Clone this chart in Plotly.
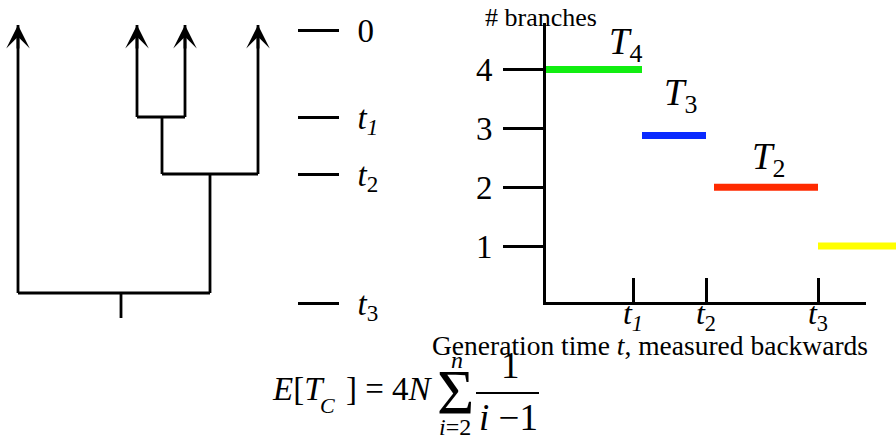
import plotly.graph_objects as go

W, H = 896, 438
SERIF = "Liberation Serif"

# ---------------- data ----------------
# coalescent tree (left panel); x in layout units, t = generations back
tree_leaf_x = [18, 137, 185, 258]
tree_merge_pairs = [(1, 2), (4, 3), (0, 5)]   # node ids: leaves 0-3, merges 4,5,6
tree_merge_t = [87, 144, 263]
tree_node_x = [162, 210, 121]
tree_tip_t = -5
tree_root_end_t = 288
tree_mark_t = [0, 87, 144, 273]
tree_mark_labels = ["0", "<i>t<sub>1</sub></i>", "<i>t</i><sub>2</sub>", "<i>t</i><sub>3</sub>"]

# number of branches through time (right panel)
branch_levels = [4, 2.88, 2, 1]
branch_start_t = [0, 96, 168, 272]
branch_end_t = [96, 160, 272, 350]
branch_colors = ["#11ee11", "#0a2aff", "#ff2a00", "#ffff00"]
branch_labels = ["<i>T</i><sub>4</sub>", "<i>T</i><sub>3</sub>", "<i>T</i><sub>2</sub>"]
chart_tick_t = [87, 160, 272]
chart_tick_labels = ["<i>t<sub>1</sub></i>", "<i>t</i><sub>2</sub>", "<i>t</i><sub>3</sub>"]
branch_ticks = [1, 2, 3, 4]
axis_end_t = 320


def px(x):
    return x / W


def py(y):
    return 1 - y / H


fig = go.Figure()

# ---- tree lines ----
node_x = list(tree_leaf_x) + list(tree_node_x)
node_t = [tree_tip_t] * len(tree_leaf_x) + list(tree_merge_t)
lx, ly = [], []
for (a, b), t in zip(tree_merge_pairs, tree_merge_t):
    for c in (a, b):
        lx += [node_x[c], node_x[c], None]
        ly += [node_t[c], t, None]
    lx += [node_x[a], node_x[b], None]
    ly += [t, t, None]
root = len(node_x) - 1
lx += [node_x[root], node_x[root]]
ly += [node_t[root], tree_root_end_t]
fig.add_trace(go.Scatter(x=lx, y=ly, mode="lines", xaxis="x", yaxis="y",
                         line=dict(color="black", width=2.8),
                         hoverinfo="skip", showlegend=False))

# ---- branch count bars ----
for lvl, s, e, c in zip(branch_levels, branch_start_t, branch_end_t, branch_colors):
    xa = "x2" if e <= axis_end_t else "x3"
    fig.add_trace(go.Scatter(x=[s, e], y=[lvl, lvl], mode="lines",
                             xaxis=xa, yaxis="y2",
                             line=dict(color=c, width=7),
                             hoverinfo="skip", showlegend=False))

annotations = []
# arrowheads on the leaves
for x in tree_leaf_x:
    annotations.append(dict(x=x, y=tree_tip_t, ax=x, ay=tree_tip_t + 25,
                            xref="x", yref="y", axref="x", ayref="y",
                            text="", showarrow=True, arrowhead=3,
                            arrowsize=1.4, arrowwidth=2.8, arrowcolor="black",
                            standoff=0, startstandoff=0))

txt = dict(showarrow=False, xref="paper", yref="paper",
           xanchor="center", yanchor="middle")

# T labels
for lab, (cx, cy) in zip(branch_labels, [(626, 45), (681, 95), (769, 159)]):
    annotations.append(dict(text=lab, x=px(cx), y=py(cy),
                            font=dict(family=SERIF, size=37, color="black"), **txt))

annotations.append(dict(text="# branches", x=px(541), y=py(18),
                        font=dict(family=SERIF, size=26, color="black"), **txt))
annotations.append(dict(text="Generation time <i>t</i>, measured backwards",
                        x=px(650), y=py(345),
                        font=dict(family=SERIF, size=27.5, color="black"), **txt))

# formula  E[T_C] = 4N  sum_{i=2}^{n} 1/(i-1)
ff = dict(family=SERIF, color="black")
left = dict(showarrow=False, xref="paper", yref="paper", xanchor="left", yanchor="middle")
annotations.append(dict(text="<i>E</i>[<i>T</i>", x=px(270), y=py(389),
                        font=dict(size=33, **ff), **left))
annotations.append(dict(text="<i>C</i>", x=px(318), y=py(405),
                        font=dict(size=22, **ff), **left))
annotations.append(dict(text="] = 4<i>N</i>", x=px(344), y=py(389),
                        font=dict(size=33, **ff), **left))
annotations.append(dict(text="Σ", x=px(455), y=py(392), font=dict(size=64, **ff), **txt))
annotations.append(dict(text="<i>n</i>", x=px(457), y=py(360), font=dict(size=24, **ff), **txt))
annotations.append(dict(text="<i>i</i>=2", x=px(455), y=py(427), font=dict(size=24, **ff), **txt))
annotations.append(dict(text="1", x=px(510), y=py(365), font=dict(size=37, **ff), **txt))
annotations.append(dict(text="<i>i</i> −1", x=px(508), y=py(417), font=dict(size=37, **ff), **txt))

shapes = [dict(type="line", xref="paper", yref="paper",
               x0=px(476), x1=px(539), y0=py(393), y1=py(393),
               line=dict(color="black", width=2))]

fig.update_layout(
    width=W, height=H, autosize=False,
    margin=dict(l=0, r=0, t=0, b=0, pad=0, autoexpand=False),
    paper_bgcolor="white", plot_bgcolor="rgba(0,0,0,0)",
    showlegend=False,
    annotations=annotations, shapes=shapes,
    xaxis=dict(domain=[0, px(297)], range=[0, 297], anchor="y",
               showticklabels=False, ticks="", showline=False,
               showgrid=False, zeroline=False, automargin=False),
    yaxis=dict(domain=[py(330), 1], range=[300, -30], anchor="x", side="right",
               ticks="outside", ticklen=41, tickwidth=3, tickcolor="black",
               tickvals=tree_mark_t, ticktext=tree_mark_labels,
               tickfont=dict(family=SERIF, size=33, color="black"),
               ticklabelstandoff=12, automargin=False,
               showgrid=False, zeroline=False, showline=False),
    xaxis2=dict(domain=[px(546), px(546 + axis_end_t)], range=[0, axis_end_t], anchor="y2",
                showline=True, linewidth=3, linecolor="black",
                ticks="inside", ticklen=24, tickwidth=3, tickcolor="black",
                tickvals=chart_tick_t, ticktext=chart_tick_labels,
                tickfont=dict(family=SERIF, size=32, color="black"),
                ticklabelstandoff=-19,
                showgrid=False, zeroline=False, automargin=False),
    yaxis2=dict(domain=[py(302), py(23)], range=[0.051, 4.788], anchor="x2",
                showline=True, linewidth=3, linecolor="black",
                ticks="outside", ticklen=40, tickwidth=3, tickcolor="black",
                tickvals=branch_ticks,
                tickfont=dict(family=SERIF, size=33, color="black"),
                ticklabelstandoff=4, automargin=False,
                showgrid=False, zeroline=False),
    xaxis3=dict(domain=[px(546), 1], range=[0, 350], anchor="y2",
                showticklabels=False, ticks="", showline=False,
                showgrid=False, zeroline=False, automargin=False),
)

fig.write_html("out.html", config={"displayModeBar": False},
               post_script="document.body.style.margin='0';")
